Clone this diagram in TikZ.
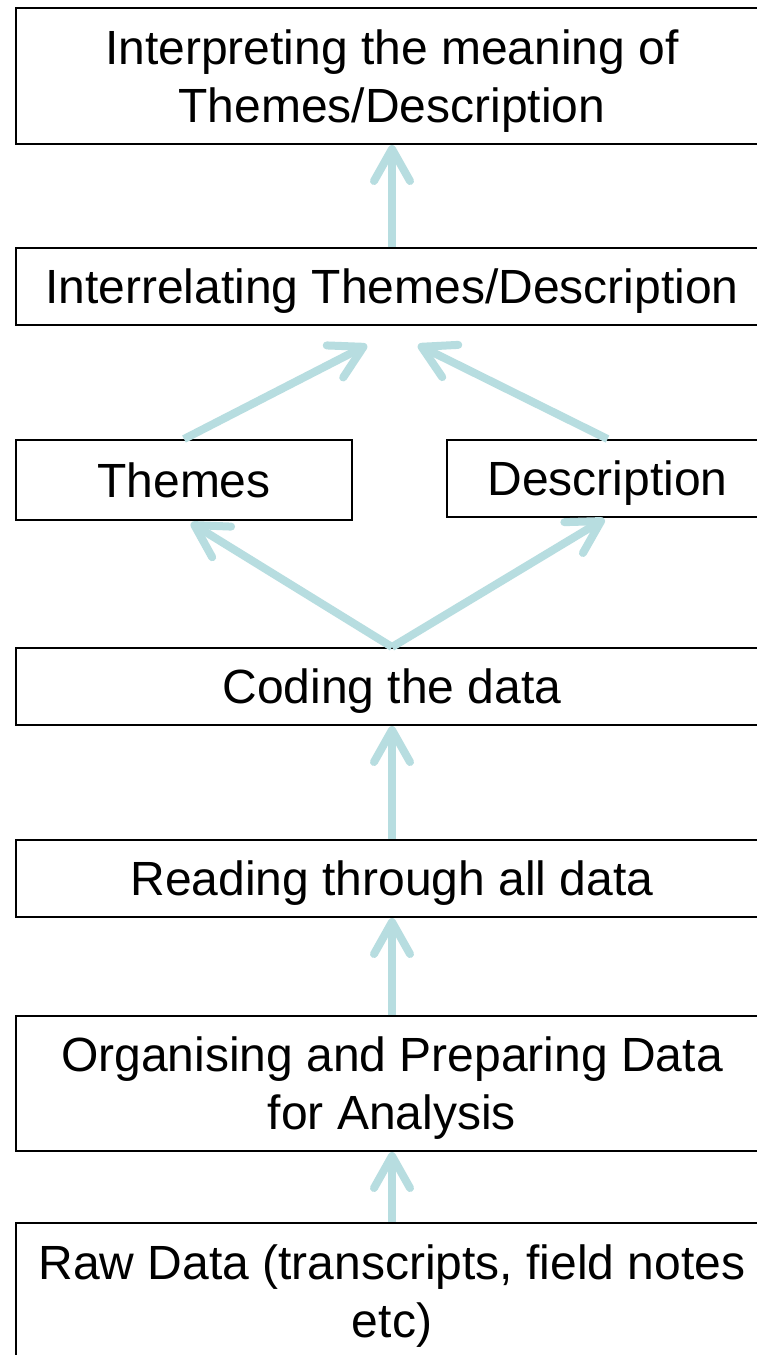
\documentclass[tikz,border=0pt]{standalone}
\usepackage{fontspec}
\setmainfont{Liberation Sans}
\usetikzlibrary{arrows.meta,calc}
\definecolor{arrowc}{HTML}{B7DDE0}
\begin{document}
\begin{tikzpicture}[x=1pt,y=-1pt,
  box/.style={draw=black,line width=2pt,fill=white,align=center,inner sep=0pt,
    font=\fontsize{48}{58}\selectfont,text depth=0pt},
  one/.style={text height=34.5pt},
  arr/.style={draw=arrowc,line width=8pt,line cap=butt,
    -{Straight Barb[length=32pt,width=36pt,round]}}]
\clip (0,0) rectangle (757,1355);
\fill[white] (0,0) rectangle (757,1355);
\node[box,minimum width=752pt,minimum height=136pt] (b1) at (392,76) {Interpreting the meaning of\\Themes/Description};
\node[box,one,minimum width=752pt,minimum height=77pt] (b2) at (392,286.5) {Interrelating Themes/Description};
\node[box,one,minimum width=336pt,minimum height=80pt] (th) at (184,480) {Themes};
\node[box,one,minimum width=321pt,minimum height=77pt] (de) at (607.5,478.5) {Description};
\node[box,one,minimum width=752pt,minimum height=77pt] (co) at (392,686.5) {Coding the data};
\node[box,one,minimum width=752pt,minimum height=77pt] (re) at (392,878.5) {Reading through all data};
\node[box,minimum width=752pt,minimum height=135pt] (or) at (392,1083.5) {Organising and Preparing Data\\for Analysis};
\node[box,minimum width=752pt,minimum height=136pt] (ra) at (392,1291) {Raw Data (transcripts, field notes\\etc)};
\coordinate (t1) at ($(b2.south)+(-25,19)$);
\coordinate (t2) at ($(b2.south)+(26,19)$);
\draw[arr] (b2.north) -- (b1.south);
\draw[arr] (th.north) -- (t1);
\draw[arr] (de.north) -- (t2);
\draw[arr] (co.north) -- ($(th.south)+(7,2)$);
\draw[arr] (co.north) -- ($(de.south)+(-3,1)$);
\draw[arr] (re.north) -- (co.south);
\draw[arr] (or.north) -- (re.south);
\draw[arr] (ra.north) -- (or.south);
\end{tikzpicture}
\end{document}
